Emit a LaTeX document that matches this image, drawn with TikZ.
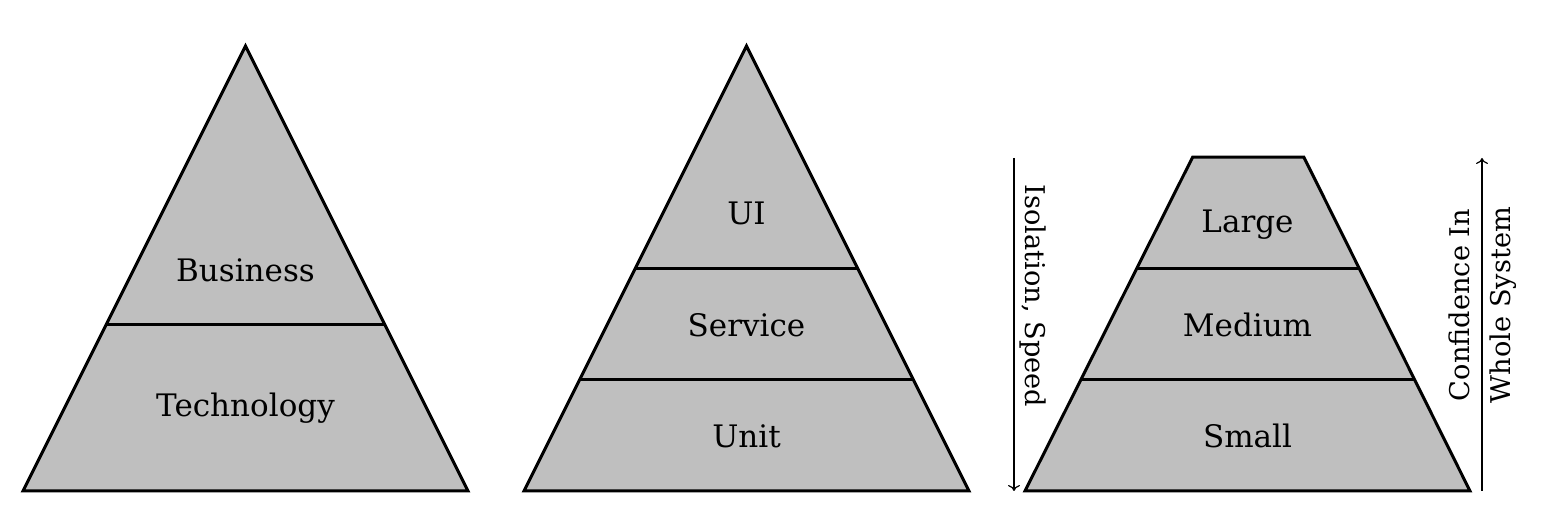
\documentclass[tikz,border=0pt]{standalone}
\usepackage{fontspec}
\setmainfont{DejaVu Serif}
\usetikzlibrary{arrows.meta}
\tikzset{
  layer/.style={draw=black, fill=lightgray, line width=1.5pt, line join=miter},
  divider/.style={draw=black, line width=1.5pt},
  lbl/.style={anchor=base, inner sep=0pt, font=\fontsize{15.5}{20.5}\selectfont},
  sidelbl/.style={inner sep=0pt, align=center, font=\fontsize{13.6}{20.5}\selectfont},
  axis/.style={draw=black, line width=0.6pt, -{To[length=3pt,width=6pt]}},
}
\begin{document}
\begin{tikzpicture}[x=0.5pt,y=-0.5pt]
\useasboundingbox (0,0) rectangle (1543,506);
% pyramid 1
\draw[layer] (23,491) -- (245.5,46) -- (468,491) -- cycle;
\draw[divider] (106.4,324.1) -- (384.6,324.1);
\node[lbl] (business) at (245.5,282) {Business};
\node[lbl] (technology) at (245.5,417) {Technology};
% pyramid 2
\draw[layer] (524,491) -- (746.5,46) -- (969,491) -- cycle;
\draw[divider] (635.25,268.5) -- (857.75,268.5);
\draw[divider] (579.6,379.75) -- (913.4,379.75);
\node[lbl] (ui) at (746.5,225) {UI};
\node[lbl] (service) at (746.5,337) {Service};
\node[lbl] (unit) at (746.5,448) {Unit};
% trapezoid
\draw[layer] (1025,491) -- (1192.6,157.25) -- (1303.9,157.25) -- (1470,491) -- cycle;
\draw[divider] (1136.25,268.5) -- (1358.75,268.5);
\draw[divider] (1080.6,379.75) -- (1414.4,379.75);
\node[lbl] (large) at (1247.5,233) {Large};
\node[lbl] (medium) at (1247.5,337) {Medium};
\node[lbl] (small) at (1247.5,448) {Small};
% axes
\coordinate (isoTop) at (1014,158);
\coordinate (isoBot) at (1014,491);
\draw[axis] (isoTop) -- (isoBot);
\node[sidelbl, rotate=-90] (iso) at (1033,296) {Isolation, Speed};
\coordinate (confBot) at (1482,491);
\coordinate (confTop) at (1482,158);
\draw[axis] (confBot) -- (confTop);
\node[sidelbl, rotate=90] (conf) at (1483,305) {Confidence In\\Whole System};
\end{tikzpicture}
\end{document}
